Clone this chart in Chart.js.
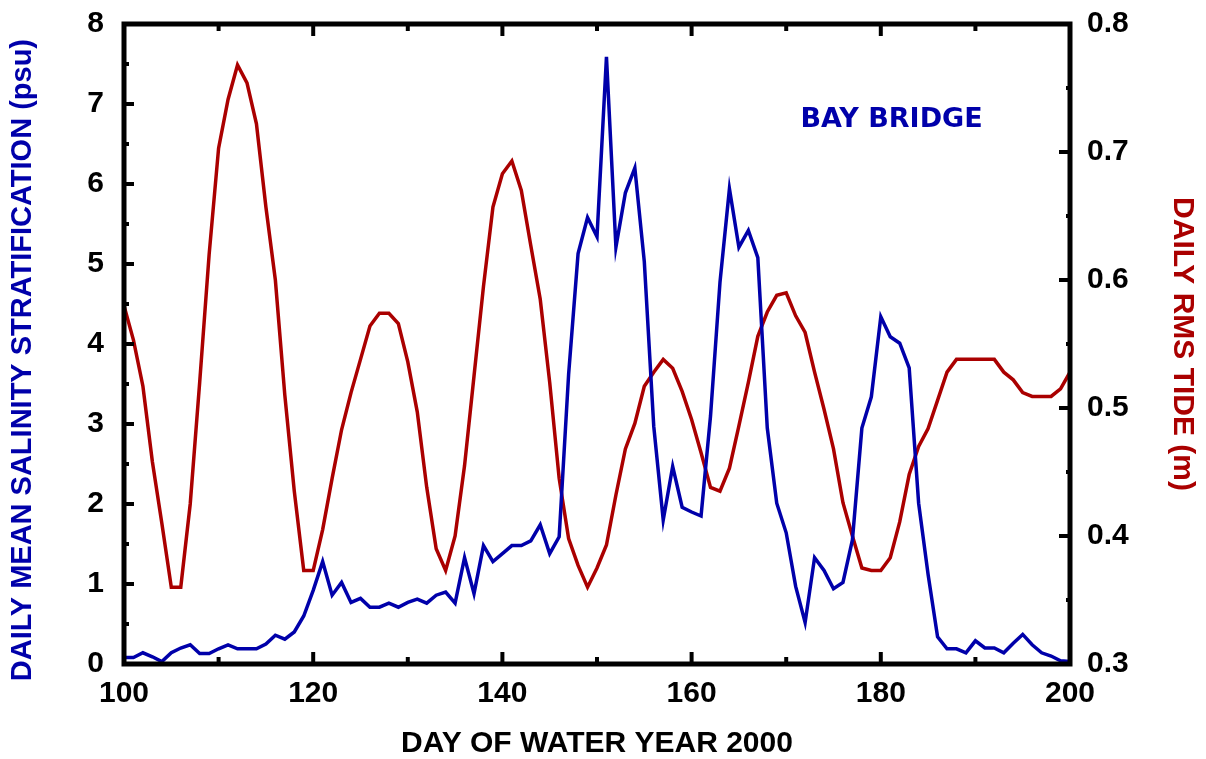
<!DOCTYPE html>
<html>
<head>
<meta charset="utf-8">
<script src="https://cdn.jsdelivr.net/npm/chart.js@4.4.1/dist/chart.umd.min.js"></script>
<style>
  html, body { margin: 0; padding: 0; background: #fff; }
  #wrap { width: 1206px; height: 759px; }
</style>
</head>
<body>
<div id="wrap"><canvas id="tideChart" width="1206" height="759"></canvas></div>
<script>
// day of water year 2000
const days = [
  100, 101, 102, 103, 104, 105, 106, 107, 108, 109,
  110, 111, 112, 113, 114, 115, 116, 117, 118, 119,
  120, 121, 122, 123, 124, 125, 126, 127, 128, 129,
  130, 131, 132, 133, 134, 135, 136, 137, 138, 139,
  140, 141, 142, 143, 144, 145, 146, 147, 148, 149,
  150, 151, 152, 153, 154, 155, 156, 157, 158, 159,
  160, 161, 162, 163, 164, 165, 166, 167, 168, 169,
  170, 171, 172, 173, 174, 175, 176, 177, 178, 179,
  180, 181, 182, 183, 184, 185, 186, 187, 188, 189,
  190, 191, 192, 193, 194, 195, 196, 197, 198, 199,
  200
];

// daily mean salinity stratification, psu (left axis)
const salinity = [
  0.08, 0.08, 0.14, 0.09, 0.03, 0.14, 0.20, 0.24, 0.13, 0.13,
  0.19, 0.24, 0.19, 0.19, 0.19, 0.25, 0.36, 0.31, 0.40, 0.60,
  0.92, 1.28, 0.86, 1.02, 0.77, 0.82, 0.71, 0.71, 0.76, 0.71,
  0.77, 0.81, 0.76, 0.86, 0.90, 0.76, 1.33, 0.88, 1.48, 1.28,
  1.38, 1.48, 1.48, 1.54, 1.74, 1.38, 1.59, 3.62, 5.13, 5.58,
  5.34, 7.59, 5.21, 5.89, 6.20, 5.03, 2.97, 1.80, 2.47, 1.96,
  1.90, 1.85, 3.10, 4.77, 5.94, 5.21, 5.42, 5.08, 2.95, 2.01,
  1.64, 0.97, 0.52, 1.33, 1.17, 0.94, 1.02, 1.55, 2.95, 3.34,
  4.34, 4.09, 4.01, 3.70, 2.01, 1.12, 0.34, 0.19, 0.19, 0.14,
  0.29, 0.20, 0.20, 0.14, 0.26, 0.37, 0.24, 0.14, 0.10, 0.04,
  0.03
];

// daily rms tide, m (right axis)
const tide = [
  0.580, 0.553, 0.517, 0.458, 0.410, 0.360, 0.360, 0.425, 0.520, 0.620,
  0.703, 0.741, 0.768, 0.754, 0.722, 0.657, 0.600, 0.510, 0.435, 0.373,
  0.373, 0.405, 0.445, 0.483, 0.512, 0.538, 0.564, 0.574, 0.574, 0.566,
  0.536, 0.497, 0.438, 0.390, 0.373, 0.400, 0.455, 0.525, 0.595, 0.657,
  0.683, 0.693, 0.670, 0.627, 0.585, 0.520, 0.445, 0.398, 0.377, 0.360,
  0.375, 0.393, 0.432, 0.468, 0.488, 0.517, 0.528, 0.538, 0.531, 0.513,
  0.491, 0.465, 0.438, 0.435, 0.453, 0.486, 0.520, 0.556, 0.575, 0.588,
  0.590, 0.572, 0.559, 0.528, 0.499, 0.468, 0.426, 0.400, 0.375, 0.373,
  0.373, 0.383, 0.411, 0.448, 0.470, 0.484, 0.506, 0.528, 0.538, 0.538,
  0.538, 0.538, 0.538, 0.528, 0.522, 0.512, 0.509, 0.509, 0.509, 0.515,
  0.528
];

const BLUE = "#0000aa";
const RED = "#aa0000";
const tickFont = { family: "Liberation Sans", size: 30, weight: "bold" };

// label drawn inside the plot, anchored in data units
const stationLabel = { text: "BAY BRIDGE", day: 171.5, value: 6.8 };

const frameAndTicks = {
  id: "frameAndTicks",
  afterDatasetsDraw(chart) {
    const { ctx, chartArea: a, scales } = chart;
    const seg = (x1, y1, x2, y2) => {
      ctx.beginPath();
      ctx.moveTo(x1, y1);
      ctx.lineTo(x2, y2);
      ctx.stroke();
    };
    ctx.save();
    ctx.strokeStyle = "#000";
    ctx.lineWidth = 4;
    scales.x.ticks.forEach((t) => {
      const px = scales.x.getPixelForValue(t.value);
      const len = t.value % 20 === 0 ? 12 : 7;
      seg(px, a.bottom, px, a.bottom - len);
      seg(px, a.top, px, a.top + len);
    });
    scales.y.ticks.forEach((t) => {
      const py = scales.y.getPixelForValue(t.value);
      const len = Number.isInteger(t.value) ? 10 : 5;
      seg(a.left, py, a.left + len, py);
    });
    scales.y1.ticks.forEach((t) => {
      const py = scales.y1.getPixelForValue(t.value);
      const len = Math.round(t.value * 100) % 10 === 0 ? 11 : 4;
      seg(a.right, py, a.right - len, py);
    });
    ctx.lineWidth = 5;
    ctx.strokeRect(a.left, a.top, a.right - a.left, a.bottom - a.top);

    ctx.fillStyle = BLUE;
    ctx.font = "bold 27px 'DejaVu Sans'";
    ctx.textAlign = "left";
    ctx.textBaseline = "middle";
    ctx.fillText(
      stationLabel.text,
      scales.x.getPixelForValue(stationLabel.day),
      scales.y.getPixelForValue(stationLabel.value)
    );
    ctx.restore();
  },
};

// fixed axis box sizes so the plot frame lands where the original has it
const fixWidth = (w) => (s) => {
  s.width = w;
  s.paddingTop = 0;
  s.paddingBottom = 0;
};

const ctx = document.getElementById("tideChart").getContext("2d");
new Chart(ctx, {
  type: "line",
  data: {
    datasets: [
      {
        label: "Salinity stratification",
        data: days.map((d, i) => ({ x: d, y: salinity[i] })),
        borderColor: BLUE,
        borderWidth: 3.5,
        pointRadius: 0,
        tension: 0,
        yAxisID: "y",
      },
      {
        label: "RMS tide",
        data: days.map((d, i) => ({ x: d, y: tide[i] })),
        borderColor: RED,
        borderWidth: 3.5,
        pointRadius: 0,
        tension: 0,
        yAxisID: "y1",
      },
    ],
  },
  options: {
    responsive: false,
    animation: false,
    devicePixelRatio: 1,
    layout: { padding: { top: 24, left: 0, right: 0, bottom: 0 } },
    plugins: {
      legend: { display: false },
      tooltip: { enabled: false },
    },
    scales: {
      x: {
        type: "linear",
        position: "bottom",
        min: 100,
        max: 200,
        grid: { display: false, drawTicks: false },
        border: { display: false },
        ticks: {
          stepSize: 10,
          autoSkip: false,
          maxRotation: 0,
          padding: 12,
          color: "#000",
          font: tickFont,
          callback: (v) => (v % 20 === 0 ? String(v) : ""),
        },
        title: {
          display: true,
          text: "DAY OF WATER YEAR 2000",
          color: "#000",
          font: { family: "Liberation Sans", size: 30, weight: "bold", lineHeight: 1 },
          padding: { top: 0, bottom: 0 },
        },
        afterFit: (s) => {
          s.height = 95;
          s.paddingLeft = 0;
          s.paddingRight = 0;
        },
      },
      y: {
        position: "left",
        min: 0,
        max: 8,
        grid: { display: false, drawTicks: false },
        border: { display: false },
        ticks: {
          stepSize: 0.5,
          autoSkip: false,
          padding: 20,
          color: "#000",
          font: tickFont,
          callback: (v) => (Number.isInteger(v) ? String(v) : ""),
        },
        title: {
          display: true,
          text: "DAILY MEAN SALINITY STRATIFICATION (psu)    ",
          color: BLUE,
          font: { family: "Liberation Sans", size: 29, weight: "bold", lineHeight: 1 },
          padding: { top: 8, bottom: 0 },
        },
        afterFit: fixWidth(124),
      },
      y1: {
        position: "right",
        min: 0.3,
        max: 0.8,
        grid: { display: false, drawTicks: false },
        border: { display: false },
        ticks: {
          stepSize: 0.05,
          autoSkip: false,
          padding: 17,
          color: "#000",
          font: tickFont,
          callback: (v) => (Math.round(v * 100) % 10 === 0 ? v.toFixed(1) : ""),
        },
        title: {
          display: true,
          text: "DAILY RMS TIDE (m)",
          color: RED,
          font: { family: "Liberation Sans", size: 30, weight: "bold", lineHeight: 1 },
          padding: { top: 9, bottom: 0 },
        },
        afterFit: fixWidth(136),
      },
    },
  },
  plugins: [frameAndTicks],
});
</script>
</body>
</html>
